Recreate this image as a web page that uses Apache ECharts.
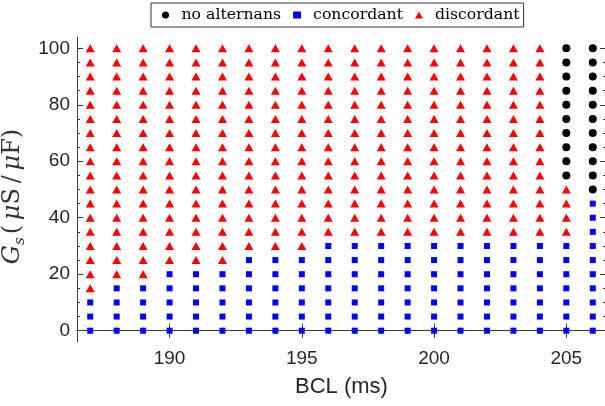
<!DOCTYPE html>
<html>
<head>
<meta charset="utf-8">
<script src="https://cdn.jsdelivr.net/npm/echarts@6/dist/echarts.min.js"></script>
<style>html,body{margin:0;padding:0;background:#fff}#c{width:605px;height:406px}</style>
</head>
<body>
<div id="c"></div>
<script>
// BCL values (ms), one column of the grid each
const bcl = [187,188,189,190,191,192,193,194,195,196,197,198,199,200,201,202,203,204,205,206];
// Gs levels sampled (uS/uF)
const gsLevels = [0,5,10,15,20,25,30,35,40,45,50,55,60,65,70,75,80,85,90,95,100];
// highest Gs with concordant alternans, per BCL column
const concordantTop = [10,15,15,20,20,20,25,25,25,30,30,30,30,30,30,30,30,30,30,45];
// lowest Gs with no alternans, per BCL column (null = none in range)
const noAltBottom = [null,null,null,null,null,null,null,null,null,null,null,null,null,null,null,null,null,null,55,50];
// tick labels
const xLabelTicks = [190,195,200,205];
const yLabelTicks = [0,20,40,60,80,100];

const noAlt = [], conc = [], disc = [];
bcl.forEach((b, i) => {
  gsLevels.forEach(g => {
    if (g <= concordantTop[i]) conc.push([b, g]);
    else if (noAltBottom[i] !== null && g >= noAltBottom[i]) noAlt.push([b, g]);
    else disc.push([b, g]);
  });
});

const frame = '#3a3a3a';
const sans = 'Liberation Sans, Arial, sans-serif';
const serif = 'DejaVu Serif, serif';
const xMinor = bcl.slice();
const yMinor = gsLevels.slice();

function xAx(pos, custom, len, withLine, labels, extra) {
  return Object.assign({
    type: 'value', min: 186.5, max: 206.5, position: pos, gridIndex: 0,
    axisLine: { show: withLine, lineStyle: { color: frame, width: 1 } },
    axisTick: { show: true, inside: true, length: len, customValues: custom, lineStyle: { color: frame, width: 1 } },
    axisLabel: labels ? { show: true, customValues: xLabelTicks, fontFamily: sans, fontSize: 19, color: '#262626', margin: 7 } : { show: false },
    splitLine: { show: false }
  }, extra || {});
}
function yAx(pos, custom, len, withLine, labels, extra) {
  return Object.assign({
    type: 'value', min: -4, max: 104, position: pos, gridIndex: 0,
    axisLine: { show: withLine, lineStyle: { color: frame, width: 1 } },
    axisTick: { show: true, inside: true, length: len, customValues: custom, lineStyle: { color: frame, width: 1 } },
    axisLabel: labels ? { show: true, customValues: yLabelTicks, fontFamily: sans, fontSize: 19, color: '#262626', margin: 7 } : { show: false },
    splitLine: { show: false }
  }, extra || {});
}

const TS = '\u2009';
const chart = echarts.init(document.getElementById('c'), null, { renderer: 'canvas' });
chart.setOption({
  animation: false,
  backgroundColor: '#fff',
  grid: { left: 77, right: -1, top: 37, bottom: 64, outerBoundsMode: 'none', containLabel: false },
  legend: {
    left: 151, top: 3,
    padding: [4, 4, 4, 11],
    itemGap: 12,
    itemWidth: 8, itemHeight: 7,
    borderColor: '#333', borderWidth: 1, backgroundColor: '#fff',
    textStyle: { fontFamily: serif, fontSize: 15.7, color: '#000', padding: [0, 0, 0, 7] },
    data: ['no alternans', 'concordant', 'discordant']
  },
  xAxis: [
    xAx('bottom', xLabelTicks, 7, true, true, {
      name: 'BCL (ms)', nameLocation: 'middle', nameGap: 34,
      nameTextStyle: { fontFamily: sans, fontSize: 22, color: '#262626' }
    }),
    xAx('bottom', xMinor, 3, false, false),
    xAx('top', xLabelTicks, 7, true, false),
    xAx('top', xMinor, 3, false, false)
  ],
  yAxis: [
    yAx('left', yLabelTicks, 6, true, true, {
      name: '{i|G}{sub|s}{n|(' + TS + '}{i|μ}{n|S' + TS + '/' + TS + '}{i|μ}{n|F)}{sp|}', nameLocation: 'middle', nameGap: 41,
      nameTextStyle: {
        rich: {
          i: { fontFamily: serif, fontStyle: 'italic', fontSize: 24, color: '#333', lineHeight: 30, verticalAlign: 'middle' },
          n: { fontFamily: serif, fontSize: 24, color: '#333', lineHeight: 30, verticalAlign: 'middle' },
          sp: { width: 14, lineHeight: 30 },
          sub: { fontFamily: serif, fontStyle: 'italic', fontSize: 15, color: '#333', lineHeight: 15, verticalAlign: 'bottom', padding: [0, 3, 0, 0] }
        }
      }
    }),
    yAx('left', yMinor, 3, false, false),
    yAx('right', yLabelTicks, 6, true, false),
    yAx('right', yMinor, 3, false, false)
  ],
  series: [
    { name: 'no alternans', type: 'scatter', xAxisIndex: 0, yAxisIndex: 0, data: noAlt,
      symbol: 'circle', symbolSize: 8, itemStyle: { color: '#000', opacity: 1 } },
    { name: 'concordant', type: 'scatter', xAxisIndex: 0, yAxisIndex: 0, data: conc,
      symbol: 'rect', symbolSize: 6, itemStyle: { color: '#0000ff', opacity: 1 } },
    { name: 'discordant', type: 'scatter', xAxisIndex: 0, yAxisIndex: 0, data: disc,
      symbol: 'triangle', symbolSize: [9, 8], itemStyle: { color: '#ff0000', opacity: 1 } }
  ]
});
</script>
</body>
</html>
